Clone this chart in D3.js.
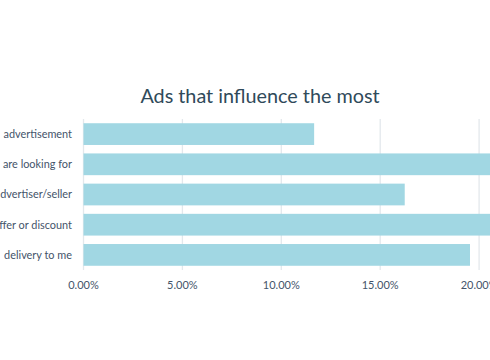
<html>
<head>
<script src="https://d3js.org/d3.v7.min.js"></script>
<style>
  body { margin: 0; background: #fff; overflow: hidden; }
  svg { font-family: Lato, "Open Sans", sans-serif; }
</style>
</head>
<body>
<script>
// labels as visible in the picture (left side cropped)
var categories = ["advertisement", "are looking for", "dvertiser/seller", "ffer or discount", "delivery to me"];
var values = [0.1166, 0.228, 0.1624, 0.215, 0.1954];
var ticks = [0, 0.05, 0.10, 0.15, 0.20];

var width = 490, height = 360;
var svg = d3.select("body").append("svg").attr("width", width).attr("height", height);

var x = d3.scaleLinear().domain([0, 0.05]).range([83.5, 182.4]);
var y = d3.scaleBand().domain(categories).range([119, 270]).paddingInner(0.28).paddingOuter(0.14);

// gridlines
svg.append("g").selectAll("line").data(ticks).enter().append("line")
  .attr("x1", function(d){ return x(d); }).attr("x2", function(d){ return x(d); })
  .attr("y1", 119).attr("y2", 270)
  .attr("stroke", "#e3e8ec").attr("stroke-width", 1.3);

// bars
svg.append("g").selectAll("rect").data(values).enter().append("rect")
  .attr("x", x(0))
  .attr("y", function(d, i){ return y(categories[i]); })
  .attr("width", function(d){ return x(d) - x(0); })
  .attr("height", y.bandwidth())
  .attr("fill", "#a1d7e3");

// category labels
svg.append("g").selectAll("text").data(categories).enter().append("text")
  .attr("x", 72)
  .attr("y", function(d){ return y(d) + y.bandwidth()/2; })
  .attr("dy", "0.35em")
  .attr("text-anchor", "end")
  .attr("font-size", 10.9)
  .attr("fill", "#44546a")
  .text(function(d){ return d; });

// x tick labels
svg.append("g").selectAll("text").data(ticks).enter().append("text")
  .attr("x", function(d){ return x(d); })
  .attr("y", 289)
  .attr("text-anchor", "middle")
  .attr("font-size", 11)
  .attr("fill", "#44546a")
  .text(function(d){ return d3.format(".2%")(d); });

// title
svg.append("text")
  .attr("x", 260).attr("y", 103)
  .attr("text-anchor", "middle")
  .attr("font-size", 19.8)
  .attr("fill", "#2f4a5a")
  .text("Ads that influence the most");
</script>
</body>
</html>
